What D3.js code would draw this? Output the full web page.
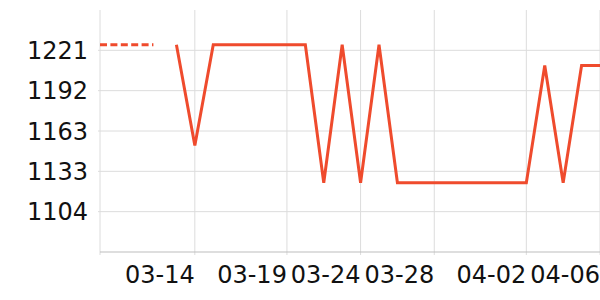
<!DOCTYPE html>
<html>
<head>
<meta charset="utf-8">
<script src="https://cdn.jsdelivr.net/npm/d3@7"></script>
<style>
  html, body { margin: 0; padding: 0; background: #fff; }
  svg { display: block; }
</style>
</head>
<body>
<div id="chart"></div>
<script>
// --- data ---
const dates = ["03-13", "03-14", "03-15", "03-16", "03-17", "03-18", "03-19", "03-20",
               "03-21", "03-22", "03-24", "03-25", "03-26", "03-27", "03-28", "03-29",
               "03-30", "03-31", "04-01", "04-02", "04-03", "04-04", "04-05", "04-06"];
const values = [1225, 1152, 1225, 1225, 1225, 1225, 1225, 1225,
                1125, 1225, 1125, 1225, 1125, 1125, 1125, 1125,
                1125, 1125, 1125, 1125, 1210, 1125, 1210, 1210];
// dashed lead-in before the first date (positions in date-index units)
const leadIdx = [-4.15, -1.25];
const leadValues = [1225, 1225];
const tickDates = ["03-14", "03-19", "03-24", "03-28", "04-02", "04-06"];
const yTicks = [1104, 1133.25, 1162.5, 1191.75, 1221];

const width = 600, height = 300;
const margin = { top: 10, right: 0, bottom: 48, left: 100 };
const lineColor = "#ef4b2d";
const font = "'DejaVu Sans', sans-serif";

const svg = d3.select("#chart").append("svg")
  .attr("width", width).attr("height", height);

const x = d3.scaleLinear()
  .domain([-4.15, dates.length - 1])
  .range([margin.left, width - margin.right]);
const y = d3.scaleLinear()
  .domain([1074.75, 1250.25])
  .range([height - margin.bottom, margin.top]);

const g = svg.append("g");

// gridlines
g.selectAll(".hgrid").data(yTicks).join("line")
  .attr("x1", margin.left - 2).attr("x2", width - margin.right)
  .attr("y1", d => y(d)).attr("y2", d => y(d))
  .attr("stroke", "#dcdcdc").attr("stroke-width", 1);

g.selectAll(".vgrid").data(tickDates).join("line")
  .attr("x1", d => x(dates.indexOf(d))).attr("x2", d => x(dates.indexOf(d)))
  .attr("y1", margin.top).attr("y2", height - margin.bottom + 3)
  .attr("stroke", "#dcdcdc").attr("stroke-width", 1);

// left axis line
g.append("line")
  .attr("x1", margin.left).attr("x2", margin.left)
  .attr("y1", margin.top).attr("y2", height - margin.bottom + 3)
  .attr("stroke", "#dcdcdc");

// bottom axis line
g.append("line")
  .attr("x1", margin.left).attr("x2", width - margin.right)
  .attr("y1", height - margin.bottom).attr("y2", height - margin.bottom)
  .attr("stroke", "#bdbdbd");

// y labels
g.selectAll(".ylab").data(yTicks).join("text")
  .attr("x", margin.left - 12)
  .attr("y", d => y(d))
  .attr("dy", "0.36em")
  .attr("text-anchor", "end")
  .style("font-family", font).style("font-size", "24px").style("fill", "#111")
  .text(d => Math.round(d));

// x labels (right-aligned to tick)
g.selectAll(".xlab").data(tickDates).join("text")
  .attr("x", d => x(dates.indexOf(d)))
  .attr("y", height - margin.bottom + 30.5)
  .attr("text-anchor", "end")
  .style("font-family", font).style("font-size", "24px").style("fill", "#111")
  .text(d => d);

// lines
const line = d3.line().x(d => x(d[0])).y(d => y(d[1]));

g.append("path")
  .datum(leadIdx.map((d, i) => [d, leadValues[i]]))
  .attr("d", line)
  .attr("fill", "none").attr("stroke", lineColor).attr("stroke-width", 3)
  .attr("stroke-dasharray", "7,3.4");

g.append("path")
  .datum(values.map((v, i) => [i, v]))
  .attr("d", line)
  .attr("fill", "none").attr("stroke", lineColor).attr("stroke-width", 3)
  .attr("stroke-linejoin", "miter");
</script>
</body>
</html>
